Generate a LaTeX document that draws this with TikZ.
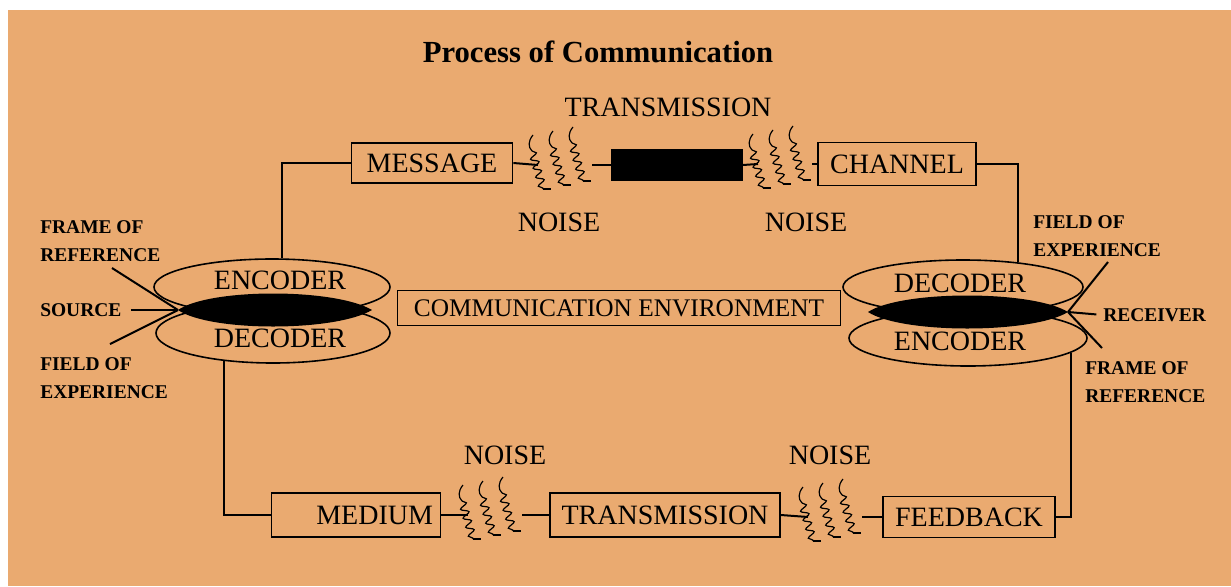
\documentclass[tikz,border=0pt]{standalone}
\usepackage{fontspec}
\setmainfont{Liberation Serif}
\usetikzlibrary{shapes.geometric,decorations.pathmorphing}
\definecolor{paper}{RGB}{234,170,112}
\tikzset{
	box/.style={draw, line width=1.3pt, inner sep=0pt, font=\fontsize{21}{24}\selectfont},
	oval/.style={draw, ellipse, line width=1.2pt, inner sep=0pt},
	wire/.style={line width=1.5pt},
	lbl/.style={font=\fontsize{21}{24}\selectfont},
	side/.style={anchor=west, align=left, inner sep=0pt, font=\bfseries\fontsize{14.6}{21}\selectfont},
	noise/.pic={
		\foreach \sx/\sy in {-32/-30,-12/-34,8/-38}{
			\draw[line width=0.9pt] (\sx,\sy) .. controls (\sx-5,\sy+6) and (\sx-5,\sy+12) .. (\sx-1,\sy+16);
			\draw[line width=0.9pt, decorate, decoration={snake, segment length=7pt, amplitude=2.8pt}] (\sx-1,\sy+16) -- (\sx+10,\sy+54);
			\draw[line width=0.9pt] (\sx+10,\sy+54) -- (\sx+18,\sy+54);
		}
		\coordinate (-in) at (-27,0);
		\coordinate (-out) at (27,0);
	}
}

\begin{document}
\begin{tikzpicture}[x=0.75pt, y=-0.75pt]
	% Page and paper
	\useasboundingbox (0,0) rectangle (1231,586);
	\fill[white] (0,0) rectangle (1231,586);
	\fill[paper] (8,10) rectangle (1231,586);

	% Title
	\node[font=\bfseries\fontsize{23}{26}\selectfont] (title) at (598,52) {Process of Communication};

	% Top row
	\node[box, minimum width=120.75pt, minimum height=30pt] (msg) at (432,163) {MESSAGE};
	\node[draw, fill=black, line width=1pt, inner sep=0pt, minimum width=97.5pt, minimum height=23.25pt] (blk) at (677,165) {};
	\node[box, minimum width=118.5pt, minimum height=32.25pt] (chan) at (897,164) {CHANNEL};
	\node[lbl] (trtop) at (668,107) {TRANSMISSION};
	\pic (nz1) at (565,165) {noise};
	\pic (nz2) at (785,164) {noise};
	\node[lbl] (noise1) at (559,222) {NOISE};
	\node[lbl] (noise2) at (806,222) {NOISE};

	% Source ovals
	\node[oval, minimum width=177pt, minimum height=42pt] (encL) at (272,287) {};
	\node[oval, minimum width=175.5pt, minimum height=45pt] (decL) at (273,333) {};
	\coordinate (srcL) at (178,310);
	\coordinate (srcR) at (372,310);
	\fill (srcL) .. controls (210,288) and (335,288) .. (srcR) .. controls (335,332) and (210,332) .. (srcL) -- cycle;
	\node[lbl] (encLtxt) at (280,280) {ENCODER};
	\node[lbl] (decLtxt) at (280,338) {DECODER};

	% Receiver ovals
	\node[oval, minimum width=180pt, minimum height=40.5pt] (decR) at (963,287) {};
	\node[oval, minimum width=178.5pt, minimum height=42pt] (encR) at (968,338) {};
	\coordinate (rcvL) at (868,312);
	\coordinate (rcvR) at (1068,312);
	\fill (rcvL) .. controls (902,290) and (1032,290) .. (rcvR) .. controls (1032,334) and (902,334) .. (rcvL) -- cycle;
	\node[lbl] (decRtxt) at (960,283) {DECODER};
	\node[lbl] (encRtxt) at (960,341) {ENCODER};

	% Environment
	\node[box, font=\fontsize{19}{22}\selectfont, minimum width=332.25pt, minimum height=26.25pt] (env) at (619,308) {COMMUNICATION ENVIRONMENT};

	% Bottom row
	\node[box, minimum width=126.75pt, minimum height=33pt] (medium) at (356,515) {\hspace{28pt}MEDIUM};
	\node[box, minimum width=172.5pt, minimum height=33pt] (trans) at (665,515) {TRANSMISSION};
	\node[box, minimum width=129pt, minimum height=30.75pt] (feed) at (969,517) {FEEDBACK};
	\pic (nz3) at (495,515) {noise};
	\pic (nz4) at (835,517) {noise};
	\node[lbl] (noise3) at (505,455) {NOISE};
	\node[lbl] (noise4) at (830,455) {NOISE};

	% Connectors
	\draw[wire] (encL.70) |- (msg.west);
	\draw[wire] (msg.east) -- (nz1-in);
	\draw[wire] (nz1-out) -- (blk.west);
	\draw[wire] (blk.east) -- (nz2-in);
	\draw[wire] (nz2-out) -- (chan.west);
	\draw[wire] (chan.east) -| (decR.24);
	\draw[wire] (decL.-150) |- (medium.west);
	\draw[wire] (medium.east) -- (nz3-in);
	\draw[wire] (nz3-out) -- (trans.west);
	\draw[wire] (trans.east) -- (nz4-in);
	\draw[wire] (nz4-out) -- (feed.west);
	\draw[wire] (encR.-8) |- (feed.east);

	% Source labels
	\node[side] (frameL) at (40,241) {FRAME OF\\REFERENCE};
	\node[side] (source) at (40,310) {SOURCE};
	\node[side] (fieldL) at (40,378) {FIELD OF\\EXPERIENCE};
	\coordinate (frameLend) at (112,268);
	\coordinate (fieldLend) at (110,344);
	\draw[wire] (srcL) -- (frameLend);
	\draw[wire, shorten <=7pt] (source.east) -- (srcL);
	\draw[wire] (srcL) -- (fieldLend);

	% Receiver labels
	\node[side] (fieldR) at (1033,236) {FIELD OF\\EXPERIENCE};
	\node[side] (recv) at (1103,315) {RECEIVER};
	\node[side] (frameR) at (1085,382) {FRAME OF\\REFERENCE};
	\coordinate (fieldRend) at (1108,262);
	\coordinate (frameRend) at (1102,348);
	\draw[wire] (rcvR) -- (fieldRend);
	\draw[wire, shorten <=5pt] (recv.west) -- (rcvR);
	\draw[wire] (rcvR) -- (frameRend);
\end{tikzpicture}
\end{document}
